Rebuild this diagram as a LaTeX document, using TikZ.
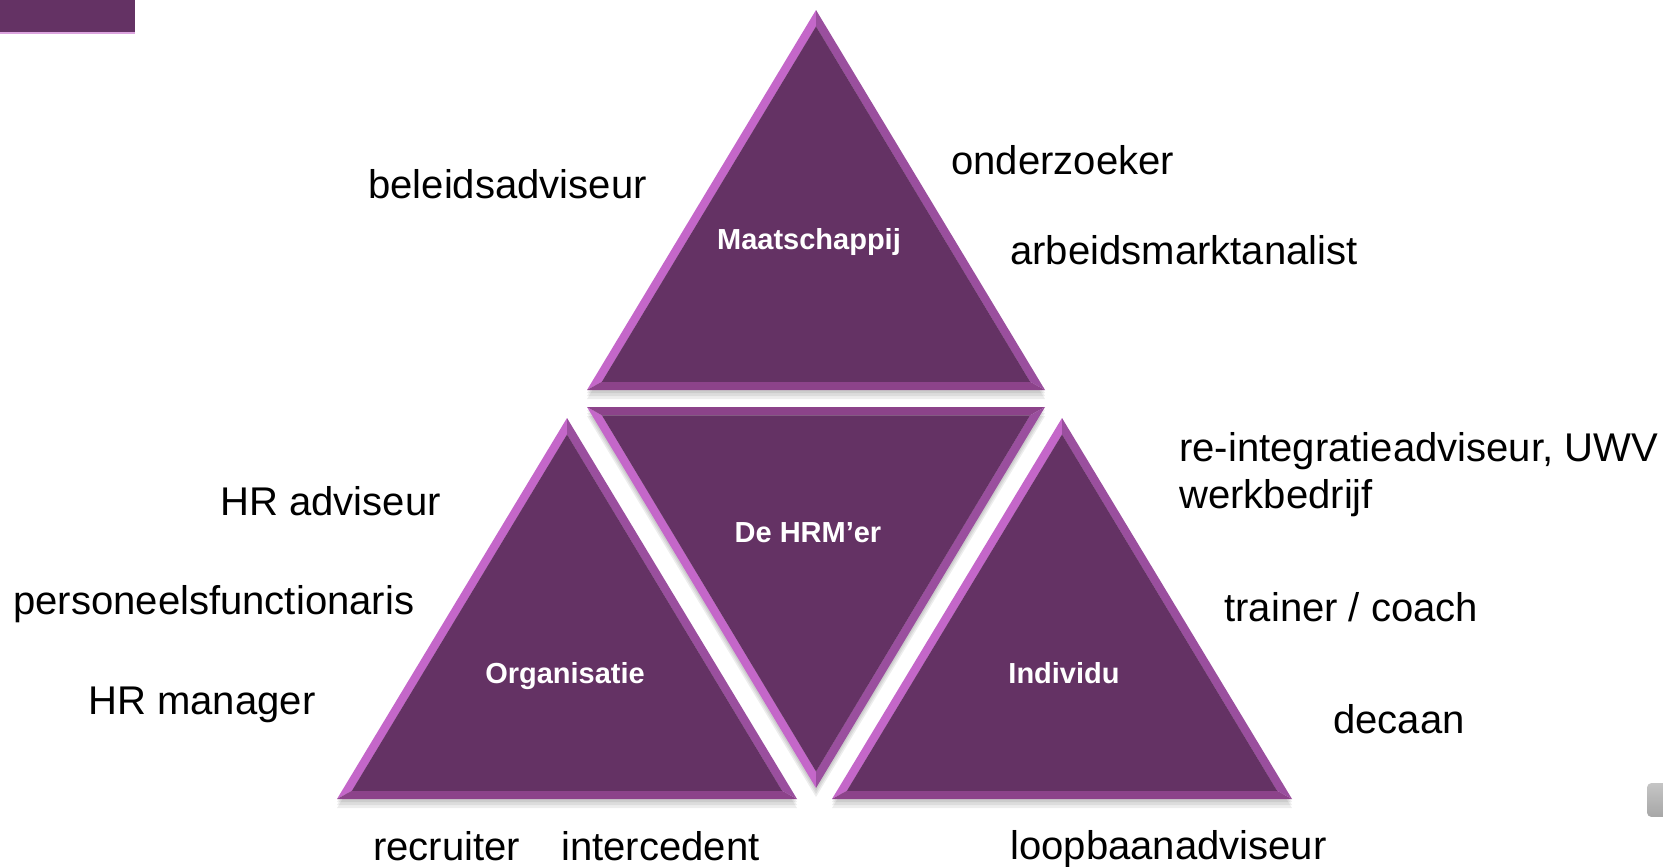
\documentclass[tikz,border=0pt]{standalone}
\usepackage{fontspec}
\setmainfont{Liberation Sans}
\usetikzlibrary{calc}

\definecolor{plum}{RGB}{100,50,100}
\definecolor{orchidedge}{RGB}{196,103,201}
\definecolor{midedge}{RGB}{154,79,158}
\definecolor{baseedge}{RGB}{140,67,138}

% bevelled triangle: name, three corners, colours of edges ab, bc, ca
\newcommand\facet[7]{%
  \coordinate (#1-a) at #2;
  \coordinate (#1-b) at #3;
  \coordinate (#1-c) at #4;
  \coordinate (#1-m) at (barycentric cs:#1-a=1,#1-b=1,#1-c=1);
  \coordinate (#1-ia) at ($(#1-m)!0.935!(#1-a)$);
  \coordinate (#1-ib) at ($(#1-m)!0.935!(#1-b)$);
  \coordinate (#1-ic) at ($(#1-m)!0.935!(#1-c)$);
  \foreach \s in {3,6,9}
    \fill[softshadow] ($(#1-a)+(0,\s)$) -- ($(#1-b)+(0,\s)$) -- ($(#1-c)+(0,\s)$) -- cycle;
  \fill[#5] (#1-a) -- (#1-b) -- (#1-ib) -- (#1-ia) -- cycle;
  \fill[#6] (#1-b) -- (#1-c) -- (#1-ic) -- (#1-ib) -- cycle;
  \fill[#7] (#1-c) -- (#1-a) -- (#1-ia) -- (#1-ic) -- cycle;
  \fill[plum] (#1-ia) -- (#1-ib) -- (#1-ic) -- cycle;
}

\begin{document}
\begin{tikzpicture}[
    x=0.02cm, y=-0.02cm,
    softshadow/.style={black, opacity=0.07},
    role/.style={
        font=\fontsize{22.8}{27}\selectfont,
        anchor=base west,
        inner sep=0pt
    },
    tag/.style={
        font=\fontsize{16.5}{20}\selectfont\bfseries,
        text=white,
        anchor=base,
        inner sep=0pt
    }
]
    \useasboundingbox (0,0) rectangle (1663,866);

    % corner bar and slide button
    \fill[plum] (0,0) rectangle (135,33);
    \draw[orchidedge!60, line width=0.6pt] (0,33) -- (135,33);
    \shade[top color=gray!45, bottom color=gray!70, draw=white, line width=1pt, rounded corners=3pt]
        (1646,782) rectangle (1675,818);

    % the four triangles
    \facet{mts}{(816,10)}{(587,390)}{(1045,390)}{orchidedge}{baseedge}{midedge}
    \facet{hrm}{(816,788)}{(587,407)}{(1045,407)}{orchidedge}{baseedge}{midedge}
    \facet{org}{(567,418)}{(337,799)}{(797,799)}{orchidedge}{baseedge}{midedge}
    \facet{ind}{(1062,418)}{(832,799)}{(1292,799)}{orchidedge}{baseedge}{midedge}

    % triangle labels
    \node[tag] (maatschappij) at (809,249) {Maatschappij};
    \node[tag] (hrmer) at (808,542) {De HRM’er};
    \node[tag] (organisatie) at (565,683) {Organisatie};
    \node[tag] (individu) at (1064,683) {Individu};

    % roles around the triangles
    \node[role] (beleid) at (368,198) {beleidsadviseur};
    \node[role] (onderzoek) at (951,174) {onderzoeker};
    \node[role] (arbeid) at (1010,264) {arbeidsmarktanalist};
    \node[role] (reint) at (1179,461) {re-integratieadviseur, UWV};
    \node[role] (werk) at (1179,508) {werkbedrijf};
    \node[role] (hradv) at (220,515) {HR adviseur};
    \node[role] (personeel) at (13,614) {personeelsfunctionaris};
    \node[role] (hrman) at (88,714) {HR manager};
    \node[role] (trainer) at (1224,621) {trainer / coach};
    \node[role] (decaan) at (1333,733) {decaan};
    \node[role] (recruiter) at (373,860) {recruiter};
    \node[role] (intercedent) at (561,860) {intercedent};
    \node[role] (loopbaan) at (1010,859) {loopbaanadviseur};
\end{tikzpicture}
\end{document}
